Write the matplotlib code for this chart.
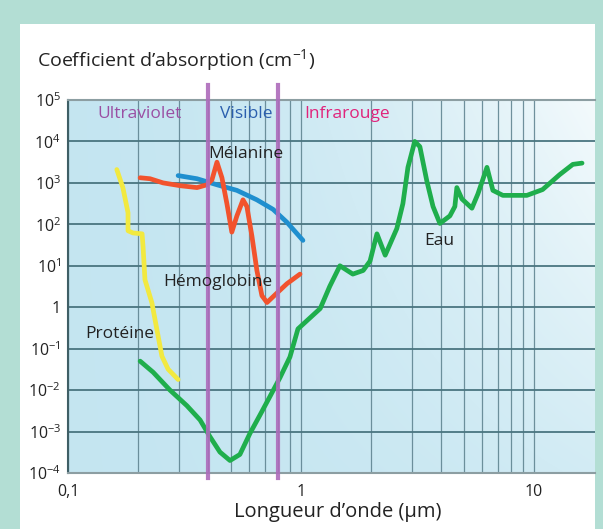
import numpy as np
import matplotlib
matplotlib.use("Agg")
import matplotlib.pyplot as plt
from matplotlib.patches import Rectangle
from matplotlib.ticker import NullFormatter, NullLocator

# ---- data ----
protein_x = [0.162, 0.172, 0.181, 0.181, 0.190, 0.208, 0.210, 0.214, 0.229, 0.243, 0.253, 0.269, 0.297]
protein_y = [2100, 770, 190, 70, 62, 59, 29, 4.6, 1.3, 0.22, 0.066, 0.032, 0.018]

hemo_x = [0.204, 0.225, 0.256, 0.303, 0.358, 0.395, 0.415, 0.436, 0.458, 0.481, 0.505,
          0.531, 0.564, 0.586, 0.616, 0.647, 0.680, 0.715, 0.789, 0.871, 0.991]
hemo_y = [1330, 1260, 1000, 855, 770, 900, 1190, 3160, 1330, 316, 65,
          160, 390, 270, 52, 7.7, 1.9, 1.3, 2.2, 3.7, 6.3]

melanin_x = [0.297, 0.358, 0.436, 0.531, 0.647, 0.759, 0.871, 1.02]
melanin_y = [1500, 1260, 900, 660, 390, 230, 112, 41]

water_x = [0.204, 0.232, 0.274, 0.324, 0.369, 0.407, 0.449, 0.496, 0.547, 0.604, 0.667,
           0.736, 0.813, 0.897, 0.971, 1.21, 1.33, 1.47, 1.67, 1.85, 1.98, 2.12, 2.30,
           2.58, 2.74, 2.88, 3.08, 3.24, 3.47, 3.69, 3.95, 4.36, 4.58, 4.67, 4.91, 5.42,
           5.75, 6.29, 6.67, 7.36, 9.33, 10.9, 12.9, 14.7, 16.1]
water_y = [0.050, 0.027, 0.010, 0.0042, 0.0019, 7.5e-4, 3.2e-4, 2.0e-4, 2.8e-4, 9e-4, 2.5e-3,
           7e-3, 0.02, 0.063, 0.30, 0.93, 3.2, 10, 6.3, 7.7, 13, 59, 18,
           79, 316, 2370, 10000, 7500, 1120, 270, 105, 160, 270, 770, 410, 245,
           540, 2370, 660, 500, 500, 690, 1580, 2800, 3000]

visible_bounds = [0.4, 0.8]

x_major = [0.1, 1, 10]
x_major_labels = ["0,1", "1", "10"]
x_minor = [0.2, 0.3, 0.4, 0.5, 0.6, 0.7, 0.8, 0.9, 2, 3, 4, 5, 6, 7, 8, 9]
y_ticks = [1e-4, 1e-3, 1e-2, 1e-1, 1, 1e1, 1e2, 1e3, 1e4, 1e5]
y_labels = ["$10^{-4}$", "$10^{-3}$", "$10^{-2}$", "$10^{-1}$", "1",
            "$10^{1}$", "$10^{2}$", "$10^{3}$", "$10^{4}$", "$10^{5}$"]

FONT = "Open Sans"
plt.rcParams["font.family"] = [FONT, "DejaVu Sans"]
plt.rcParams["mathtext.fontset"] = "custom"
plt.rcParams["mathtext.rm"] = FONT
plt.rcParams["mathtext.it"] = FONT + ":italic"
plt.rcParams["mathtext.bf"] = FONT + ":bold"

W, H = 603, 529
fig = plt.figure(figsize=(W / 100, H / 100), dpi=100)
fig.patch.set_facecolor("#b3ded4")
fig.add_artist(Rectangle((20 / W, 0), 575 / W, 505 / H, transform=fig.transFigure,
                         facecolor="white", edgecolor="none", zorder=0))

pos = [68 / W, 56 / H, 527 / W, 373 / H]

# background gradient (light blue fading to white toward the upper right)
bg = fig.add_axes(pos, zorder=0)
bg.axis("off")
xf = np.linspace(0, 1, 300)[None, :]
yf = np.linspace(0, 1, 150)[:, None]
w = 0.8 * xf ** 1.8 * (0.3 + 0.7 * yf)
c0 = np.array([0.77, 0.9, 0.945])
img = c0 * (1 - w[..., None]) + w[..., None]
bg.imshow(img, extent=[0, 1, 0, 1], origin="lower", aspect="auto", interpolation="bilinear")
bg.set_xlim(0, 1)
bg.set_ylim(0, 1)

ax = fig.add_axes(pos, zorder=1)
ax.set_facecolor("none")
ax.set_xscale("log")
ax.set_yscale("log")
ax.set_xlim(0.1, 18.3)
ax.set_ylim(1e-4, 1e5)

ax.set_xticks(x_major)
ax.set_xticklabels(x_major_labels)
ax.set_xticks(x_minor, minor=True)
ax.xaxis.set_minor_formatter(NullFormatter())
ax.set_yticks(y_ticks)
ax.set_yticklabels(y_labels)
ax.yaxis.set_minor_locator(NullLocator())
ax.tick_params(which="both", length=0, labelsize=11.5, colors="#222222")
ax.tick_params(axis="x", pad=8)
ax.tick_params(axis="y", pad=5)

ax.set_axisbelow(True)
ax.grid(True, which="both", axis="x", color="#5a7f8c", lw=0.9, alpha=0.85)
ax.grid(True, which="major", axis="y", color="#4a7580", lw=1.3)

for side in ["top", "bottom"]:
    ax.spines[side].set_color("#8c9ea2")
    ax.spines[side].set_linewidth(1.5)
ax.spines["left"].set_color("#3f5f66")
ax.spines["left"].set_linewidth(1.5)
ax.spines["right"].set_visible(False)

lw = 3.4
kw = dict(lw=lw, solid_capstyle="round", solid_joinstyle="round", zorder=3)
ax.plot(protein_x, protein_y, color="#f2e940", **kw)
ax.plot(melanin_x, melanin_y, color="#1f8fcf", **kw)
ax.plot(hemo_x, hemo_y, color="#f2532d", **kw)
ax.plot(water_x, water_y, color="#1fae4c", **kw)

for v in visible_bounds:
    ax.axvline(v, ymin=-0.014, ymax=1.04, color="#ad6bbb", lw=3, alpha=0.9,
               clip_on=False, zorder=4)

ax.text(0.202, 46000, "Ultraviolet", color="#9a4fa3", fontsize=12.5, ha="center", va="center")
ax.text(0.581, 46000, "Visible", color="#2b5fae", fontsize=12.5, ha="center", va="center")
ax.text(1.57, 46000, "Infrarouge", color="#e0237b", fontsize=12.5, ha="center", va="center")
ax.text(0.581, 5000, "Mélanine", color="#222222", fontsize=12.5, ha="center", va="center", zorder=5)
ax.text(0.441, 4.1, "Hémoglobine", color="#222222", fontsize=12.5, ha="center", va="center", zorder=5)
ax.text(0.166, 0.22, "Protéine", color="#222222", fontsize=12.5, ha="center", va="center", zorder=5)
ax.text(3.91, 39, "Eau", color="#222222", fontsize=12.5, ha="center", va="center", zorder=5)

fig.text(37 / W, 1 - 60 / H, "Coefficient d’absorption (cm$^{-1}$)", fontsize=14,
         color="#222222", ha="left", va="center")
ax.set_xlabel("Longueur d’onde (μm)", fontsize=14.5, color="#222222", va="center")
ax.xaxis.set_label_coords(0.512, -0.105)

fig.savefig("out.png", dpi=100, facecolor=fig.get_facecolor())
